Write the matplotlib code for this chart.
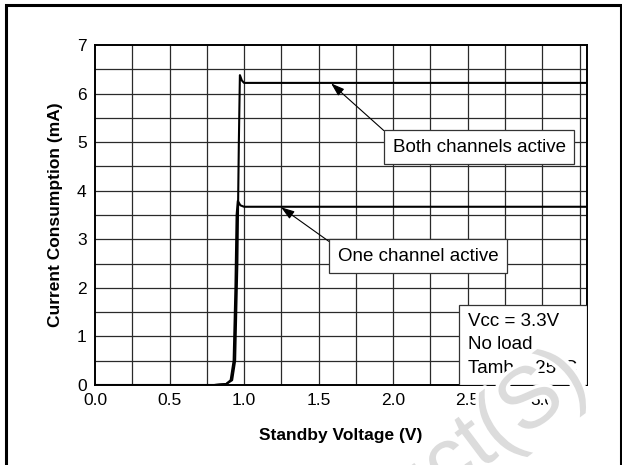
import matplotlib
matplotlib.use("Agg")
import matplotlib.pyplot as plt
from matplotlib.patches import Rectangle
import matplotlib.patheffects as pe

plt.rcParams['font.family'] = ['Liberation Sans', 'DejaVu Sans']

# Data
both_v = [0.0, 0.80, 0.88, 0.92, 0.94, 0.955, 0.965, 0.972, 0.985, 1.00, 1.04, 3.3]
both_i = [0.0, 0.0, 0.02, 0.10, 0.50, 2.50, 5.00, 6.38, 6.27, 6.22, 6.22, 6.22]
one_v = [0.0, 0.80, 0.88, 0.91, 0.93, 0.942, 0.950, 0.958, 0.975, 1.00, 3.3]
one_i = [0.0, 0.0, 0.02, 0.10, 0.50, 2.00, 3.50, 3.79, 3.70, 3.67, 3.67]
x_ticks = [0.0, 0.5, 1.0, 1.5, 2.0, 2.5, 3.0]
x_tick_labels = ['0.0', '0.5', '1.0', '1.5', '2.0', '2.5', '3.0']
y_ticks = [0, 1, 2, 3, 4, 5, 6, 7]
conditions = ['Vcc = 3.3V', 'No load', 'Tamb = 25\u00b0C']

fig = plt.figure(figsize=(6.22, 4.65), dpi=100)
ax = fig.add_axes([0.1527, 0.172, 0.7910, 0.7312])

# outer frame
fig.patches.append(Rectangle((6 / 622, -0.05), 615 / 622, 1.05 - 5 / 465,
                             transform=fig.transFigure, fill=False,
                             edgecolor='black', linewidth=2.2, zorder=0))

ax.set_xlim(0, 3.3)
ax.set_ylim(0, 7)

# grid
for gx in [i * 0.25 for i in range(1, 14)]:
    ax.axvline(gx, color='#2a2a2a', lw=0.9, zorder=1)
for gy in [i * 0.5 for i in range(1, 14)]:
    ax.axhline(gy, color='#2a2a2a', lw=0.9, zorder=1)

ax.plot(both_v, both_i, color='black', lw=1.5, zorder=3)
ax.plot(one_v, one_i, color='black', lw=1.5, zorder=3)

ax.set_xticks(x_ticks)
ax.set_xticklabels(x_tick_labels)
ax.set_yticks(y_ticks)
ax.tick_params(axis='both', labelsize=12.5, length=0)
ax.tick_params(axis='x', pad=6)
ax.tick_params(axis='y', pad=6)
for s in ax.spines.values():
    s.set_linewidth(1.4)

ax.set_xlabel('Standby Voltage (V)', fontsize=12.5, fontweight='bold', labelpad=14)
ax.set_ylabel('Current Consumption (mA)', fontsize=12.5, fontweight='bold', labelpad=10)

bbox = dict(boxstyle='square,pad=0.45', fc='white', ec='#333333', lw=0.9)
arrow = dict(arrowstyle='-|>,head_length=0.6,head_width=0.2', color='black',
             lw=0.8, shrinkA=0, shrinkB=0)
ax.annotate('Both channels active', xy=(1.584, 6.21), xytext=(2.577, 4.90),
            fontsize=13.5, ha='center', va='center', bbox=bbox,
            arrowprops=dict(arrow, relpos=(0, 1)), zorder=5)
ax.annotate('One channel active', xy=(1.248, 3.66), xytext=(2.168, 2.65),
            fontsize=13.5, ha='center', va='center', bbox=bbox,
            arrowprops=dict(arrow, relpos=(0, 1)), zorder=5)

# conditions box
ax.add_patch(Rectangle((2.443, 0), 3.3 - 2.443, 1.646, fc='white',
                       ec='#333333', lw=0.9, zorder=4))
for k, t in enumerate(conditions):
    ax.text(2.50, 1.30 - k * 0.475, t, fontsize=13.5, ha='left', va='center', zorder=5)

# watermark
fig.text(592 / 622, 1 - 386 / 465, 'Obsolete Product(S)', fontsize=62,
         color='#dcdcdc', rotation=37, ha='right', va='baseline',
         rotation_mode='anchor', zorder=10,
         path_effects=[pe.withStroke(linewidth=5, foreground='white')])

fig.savefig('out.png', dpi=100)
